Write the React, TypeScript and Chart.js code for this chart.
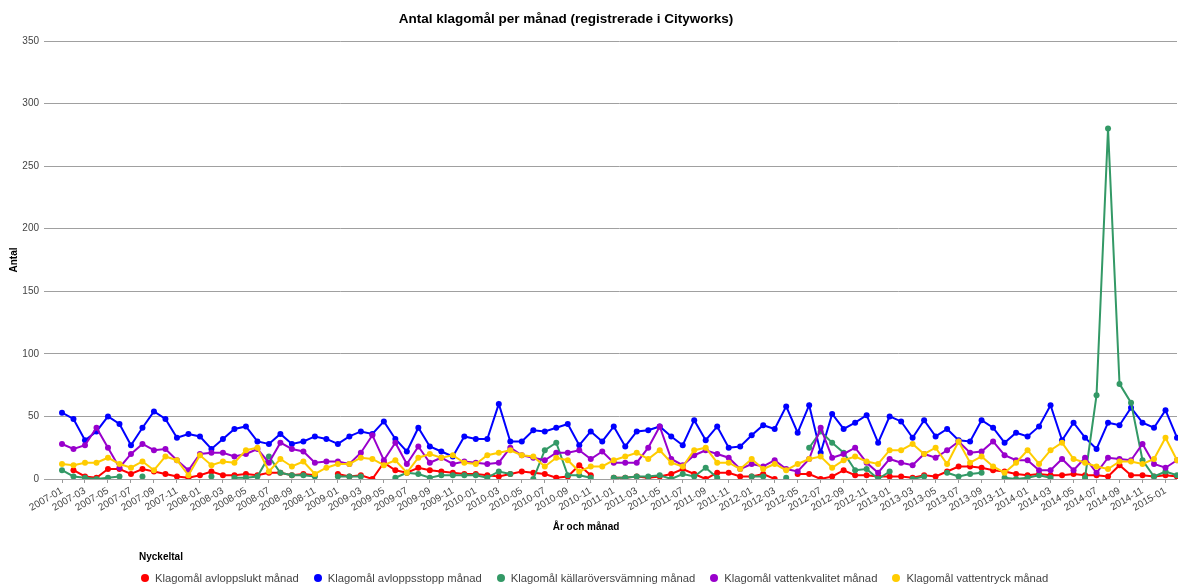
import React, { useEffect, useRef } from "react";
import { Chart, registerables } from "chart.js";

Chart.register(...registerables);

const months: string[] = [
  "2007-01","2007-02","2007-03","2007-04","2007-05","2007-06","2007-07","2007-08","2007-09","2007-10","2007-11","2007-12",
  "2008-01","2008-02","2008-03","2008-04","2008-05","2008-06","2008-07","2008-08","2008-09","2008-10","2008-11","2008-12",
  "2009-01","2009-02","2009-03","2009-04","2009-05","2009-06","2009-07","2009-08","2009-09","2009-10","2009-11","2009-12",
  "2010-01","2010-02","2010-03","2010-04","2010-05","2010-06","2010-07","2010-08","2010-09","2010-10","2010-11","2010-12",
  "2011-01","2011-02","2011-03","2011-04","2011-05","2011-06","2011-07","2011-08","2011-09","2011-10","2011-11","2011-12",
  "2012-01","2012-02","2012-03","2012-04","2012-05","2012-06","2012-07","2012-08","2012-09","2012-10","2012-11","2012-12",
  "2013-01","2013-02","2013-03","2013-04","2013-05","2013-06","2013-07","2013-08","2013-09","2013-10","2013-11","2013-12",
  "2014-01","2014-02","2014-03","2014-04","2014-05","2014-06","2014-07","2014-08","2014-09","2014-10","2014-11","2014-12",
  "2015-01","2015-02",
];

const avloppslukt: (number | null)[] = [
  null, 7, 2, 1, 8, 8, 4, 8, 6, 4, 2, 1,
  3, 6, 3, 3, 4, 3, 5, 5, 3, 4, 3, null,
  4, 2, 3, 0, 13, 7, 5, 9, 7, 6, 5, 4,
  4, 3, 2, 4, 6, 5, 4, 1, 2, 11, 3, null,
  1, 1, 2, 1, 2, 4, 8, 4, 0, 5, 5, 2,
  2, 4, 0, null, 4, 4, 0, 2, 7, 3, 3, 2,
  2, 2, 1, 3, 2, 6, 10, 10, 9, 7, 6, 4,
  3, 4, 3, 3, 4, 3, 3, 2, 11, 3, 3, 2,
  3, 2,
];

const avloppsstopp: (number | null)[] = [
  53, 48, 31, 38, 50, 44, 27, 41, 54, 48, 33, 36,
  34, 24, 32, 40, 42, 30, 28, 36, 28, 30, 34, 32,
  28, 34, 38, 36, 46, 32, 22, 41, 26, 22, 18, 34,
  32, 32, 60, 30, 30, 39, 38, 41, 44, 27, 38, 30,
  42, 26, 38, 39, 42, 34, 27, 47, 31, 42, 25, 26,
  35, 43, 40, 58, 37, 59, 21, 52, 40, 45, 51, 29,
  50, 46, 33, 47, 34, 40, 31, 30, 47, 41, 29, 37,
  34, 42, 59, 31, 45, 33, 24, 45, 43, 57, 45, 41,
  55, 33,
];

const kallaroversvamning: (number | null)[] = [
  7, 2, 1, 0, 1, 2, null, 2, null, null, null, null,
  null, 2, null, 1, 1, 2, 18, 5, 3, 3, 2, null,
  2, 2, 2, null, null, 1, 5, 4, 1, 3, 3, 3,
  3, 1, 6, 4, null, 0, 23, 29, 3, 3, 1, null,
  1, 1, 2, 2, 3, 0, 4, 2, 9, 1, null, null,
  2, 2, null, 1, null, 25, 38, 29, 21, 7, 8, 0,
  6, null, 0, 2, null, 5, 2, 4, 5, null, 1, 0,
  1, 3, 1, null, null, 1, 67, 280, 76, 61, 15, 2,
  6, 3,
];

const vattenkvalitet: (number | null)[] = [
  28, 24, 27, 41, 25, 9, 20, 28, 23, 24, 15, 7,
  20, 21, 21, 18, 20, 24, 13, 29, 24, 22, 13, 14,
  14, 12, 21, 35, 15, 29, 12, 26, 13, 17, 12, 14,
  13, 12, 13, 25, 19, 17, 15, 21, 21, 23, 16, 22,
  13, 13, 13, 25, 42, 16, 11, 19, 23, 20, 17, 8,
  12, 10, 15, 8, 6, 16, 41, 17, 20, 25, 13, 5,
  16, 13, 11, 20, 17, 23, 30, 21, 22, 30, 19, 15,
  15, 7, 7, 16, 7, 17, 5, 17, 16, 15, 28, 12,
  9, 15,
];

const vattentryck: (number | null)[] = [
  12, 11, 13, 13, 17, 12, 9, 14, 7, 18, 15, 3,
  19, 11, 14, 13, 23, 25, 6, 16, 10, 14, 4, 9,
  12, 12, 17, 16, 11, 15, 5, 17, 20, 17, 19, 13,
  12, 19, 21, 23, 19, 18, 10, 17, 15, 6, 10, 10,
  15, 18, 21, 16, 23, 13, 10, 23, 25, 13, 13, 8,
  16, 8, 12, 7, 12, 16, 18, 9, 15, 18, 14, 12,
  23, 23, 28, 20, 25, 12, 30, 13, 18, 10, 5, 13,
  23, 12, 23, 29, 16, 13, 10, 8, 14, 14, 12, 16,
  33, 15,
];

const seriesNames: string[] = [
  "Klagomål avloppslukt månad",
  "Klagomål avloppsstopp månad",
  "Klagomål källaröversvämning månad",
  "Klagomål vattenkvalitet månad",
  "Klagomål vattentryck månad",
];
const seriesColors: string[] = ["#ff0000", "#0000ff", "#339966", "#9900cc", "#ffcc00"];
const yTicks: number[] = [0, 50, 100, 150, 200, 250, 300, 350];

const chartTitle = "Antal klagomål per månad (registrerade i Cityworks)";
const xTitle = "År och månad";
const yTitle = "Antal";
const legendTitle = "Nyckeltal";

const FONT = "'Liberation Sans', Arial, sans-serif";

export default function App() {
  const ref = useRef<HTMLCanvasElement | null>(null);

  useEffect(() => {
    document.body.style.margin = "0";
    const values = [avloppslukt, avloppsstopp, kallaroversvamning, vattenkvalitet, vattentryck];
    const chart = new Chart(ref.current as HTMLCanvasElement, {
      type: "line",
      data: {
        labels: months,
        datasets: values.map((v, i) => ({
          label: seriesNames[i],
          data: v,
          borderColor: seriesColors[i],
          backgroundColor: seriesColors[i],
          pointBackgroundColor: seriesColors[i],
          pointBorderColor: seriesColors[i],
          borderWidth: 2,
          pointRadius: 3,
          pointBorderWidth: 0,
          tension: 0,
          spanGaps: false,
          order: values.length - i,
        })),
      },
      options: {
        animation: false,
        responsive: false,
        maintainAspectRatio: false,
        layout: { padding: { top: 41, left: 0, right: 0, bottom: 0 } },
        plugins: {
          legend: { display: false },
          tooltip: { enabled: false },
          title: { display: false },
        },
        scales: {
          x: {
            type: "category",
            offset: false,
            border: { display: false },
            grid: {
              drawOnChartArea: false,
              drawTicks: true,
              tickLength: 4,
              color: (c: any) => (c.index % 2 === 0 ? "#999999" : "rgba(0,0,0,0)"),
            },
            ticks: {
              autoSkip: false,
              minRotation: 30,
              maxRotation: 30,
              padding: 2,
              color: "#444444",
              font: { family: FONT, size: 10 },
              callback: (_v: any, idx: number) => (idx % 2 === 0 ? months[idx] : ""),
            },
            afterFit: (s: any) => {
              s.height = 106;
              s.paddingLeft = 0;
              s.paddingRight = 0;
            },
          },
          y: {
            min: 0,
            max: 350,
            border: { display: false },
            afterBuildTicks: (s: any) => {
              s.ticks = yTicks.map((v) => ({ value: v }));
            },
            grid: {
              color: "#a0a0a0",
              lineWidth: 1,
              drawTicks: true,
              tickLength: 18,
            },
            ticks: {
              padding: 5,
              color: "#444444",
              font: { family: FONT, size: 10 },
            },
            title: {
              display: true,
              text: yTitle,
              color: "#000000",
              font: { family: FONT, size: 10, weight: "bold" },
              padding: { top: 8, bottom: 0 },
            },
            afterFit: (s: any) => {
              s.width = 62;
            },
          },
        },
      },
    });
    return () => chart.destroy();
  }, []);

  return (
    <div style={{ position: "relative", width: 1178, height: 585, fontFamily: FONT, overflow: "hidden" }}>
      <canvas ref={ref} width={1181} height={585} style={{ position: "absolute", left: 0, top: 0 }} />
      <div
        style={{
          position: "absolute", left: 0, width: 1132, top: 11, textAlign: "center",
          fontWeight: "bold", fontSize: 13.5, lineHeight: "16px", color: "#000",
        }}
      >
        {chartTitle}
      </div>
      <div
        style={{
          position: "absolute", left: 0, width: 1172, top: 520, textAlign: "center",
          fontWeight: "bold", fontSize: 10, lineHeight: "14px", color: "#000",
        }}
      >
        {xTitle}
      </div>
      <div style={{ position: "absolute", left: 139, top: 550, fontWeight: "bold", fontSize: 10, lineHeight: "14px", color: "#000" }}>
        {legendTitle}
      </div>
      <div style={{ position: "absolute", left: 141, top: 571, display: "flex", alignItems: "center", fontSize: 11.25, lineHeight: "14px", color: "#444", whiteSpace: "nowrap" }}>
        {seriesNames.map((n, i) => (
          <div key={n} style={{ display: "flex", alignItems: "center", marginRight: 15 }}>
            <span
              style={{
                display: "inline-block", width: 8, height: 8, borderRadius: "50%",
                background: seriesColors[i], marginRight: 6,
              }}
            />
            <span>{n}</span>
          </div>
        ))}
      </div>
    </div>
  );
}
